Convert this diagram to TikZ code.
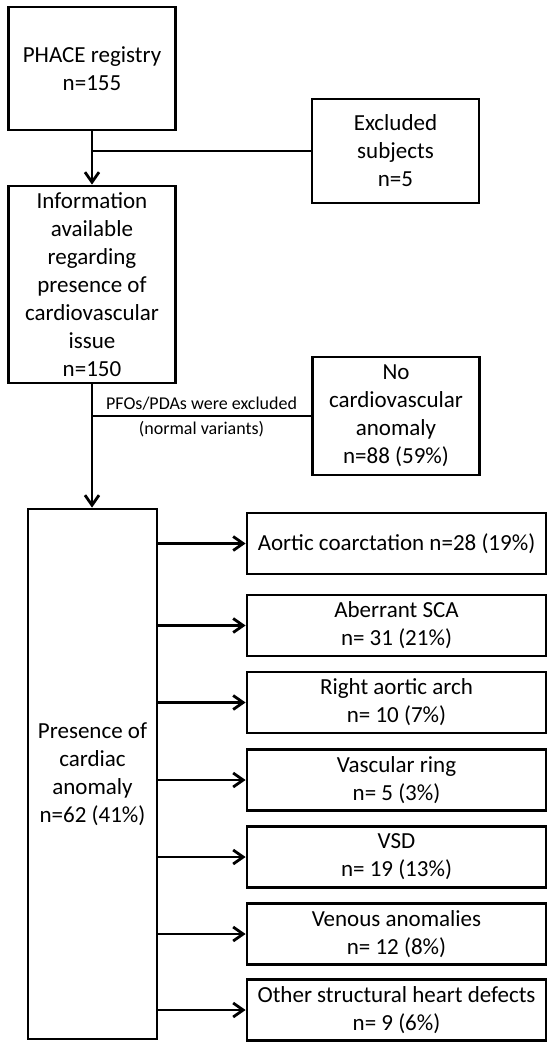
\documentclass[tikz,border=0pt]{standalone}
\usepackage{fontspec}
\setmainfont{Carlito}
\usetikzlibrary{arrows.meta,positioning}

\begin{document}
\begin{tikzpicture}[x=0.5pt,y=-0.5pt,
    box/.style={draw,line width=1.4pt,align=center,inner sep=0pt,
        font=\fontsize{11.5}{14}\selectfont},
    leftbox/.style={box,minimum width=83.5pt},
    rightbox/.style={box,minimum width=149.5pt,minimum height=30.5pt},
    link/.style={line width=1.4pt},
    flow/.style={link,-{Straight Barb[length=5pt,width=7pt]}},
    note/.style={font=\fontsize{9}{10}\selectfont,inner sep=2pt}]
    \useasboundingbox (0,0) rectangle (555,1050);

    % main column
    \node[leftbox,minimum height=61.5pt] (phace) at (92,68.5) {PHACE registry\\n=155};
    \node[leftbox,minimum height=52pt] (excluded) at (395.5,151) {Excluded\\subjects\\n=5};
    \node[leftbox,minimum height=98.5pt] (info) at (92,284.5)
        {Information\\available\\regarding\\presence of\\cardiovascular\\issue\\n=150};
    \node[leftbox,minimum height=59pt] (nocv) at (396,416) {No\\cardiovascular\\anomaly\\n=88 (59\%)};
    \node[box,minimum width=64.5pt,minimum height=265pt] (cardiac) at (92.5,774)
        {Presence of\\cardiac\\anomaly\\n=62 (41\%)};

    % anomaly boxes
    \node[rightbox] (coarct) at (396.5,543.5) {Aortic coarctation n=28 (19\%)};
    \node[rightbox] (sca) at (396.5,625.5) {Aberrant SCA\\n= 31 (21\%)};
    \node[rightbox] (arch) at (396.5,702.5) {Right aortic arch\\n= 10 (7\%)};
    \node[rightbox] (ring) at (396.5,780) {Vascular ring\\n= 5 (3\%)};
    \node[rightbox] (vsd) at (396.5,857) {VSD\\n= 19 (13\%)};
    \node[rightbox] (venous) at (396.5,934) {Venous anomalies\\n= 12 (8\%)};
    \node[rightbox] (other) at (396.5,1010) {Other structural heart defects\\n= 9 (6\%)};

    % connectors
    \coordinate (split1) at (phace.south |- excluded.west);
    \coordinate (split2) at (info.south |- nocv.west);
    \draw[flow] (phace.south) -- (info.north);
    \draw[link] (split1) -- (excluded.west);
    \draw[flow] (info.south) -- (info.south |- cardiac.north);
    \draw[link] (split2) -- (nocv.west)
        node[note,midway,above] (pfo) {PFOs/PDAs were excluded}
        node[note,midway,below] (variants) {(normal variants)};
    \foreach \target in {coarct,sca,arch,ring,vsd,venous,other}
        \draw[flow] (cardiac.east |- \target.west) -- (\target.west);
\end{tikzpicture}
\end{document}
